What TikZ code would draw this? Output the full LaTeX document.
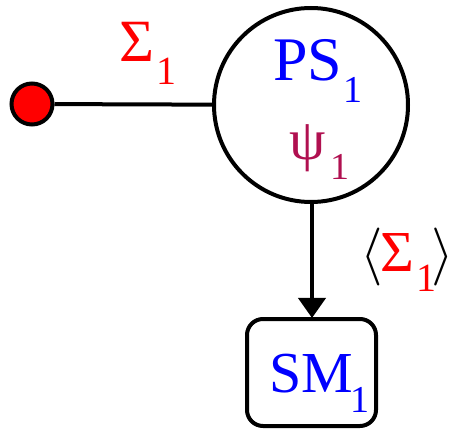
\RequirePackage{fix-cm}
\documentclass[tikz,border=0pt]{standalone}
\usepackage{fontspec}
\setmainfont{Liberation Serif}
\usetikzlibrary{arrows.meta}
\definecolor{psired}{RGB}{176,16,80}
\begin{document}
\begin{tikzpicture}[x=1pt,y=-1pt,line width=4pt,
  lbl/.style={inner sep=0pt,anchor=base west}]
\useasboundingbox (0,0) rectangle (455,430);
% shapes
\node[circle,draw,minimum size=194pt,inner sep=0pt] (ps) at (311,105) {};
\node[circle,draw,fill=red,minimum size=41pt,inner sep=0pt] (dot) at (32,104) {};
\node[draw,rounded corners=16pt,minimum width=129pt,minimum height=107pt,inner sep=0pt] (sm) at (311.5,372.5) {};
% connectors
\draw (dot) -- (ps);
\draw[-{Triangle[length=20pt,width=27pt]}] (ps.south -| 312,0) -- (312,318);
% texts
\node[lbl,text=blue] (pst) at (271,81) {\fontsize{62}{62}\selectfont \makebox[70pt][l]{PS}\raisebox{-22pt}{\fontsize{38}{38}\selectfont 1}};
\node[lbl,text=psired] (psi) at (287,160) {\fontsize{58}{58}\selectfont \makebox[41pt][l]{ψ}\raisebox{-20pt}{\fontsize{38}{38}\selectfont 1}};
\node[lbl,text=red] (sig) at (117,62) {\fontsize{60}{60}\selectfont \makebox[37pt][l]{Σ}\raisebox{-23pt}{\fontsize{40}{40}\selectfont 1}};
\node[lbl] (ang) at (358,272) {\fontsize{58}{58}\selectfont \makebox[20pt][l]{$\langle$}\makebox[36pt][l]{\textcolor{red}{Σ}}\makebox[15pt][l]{\raisebox{-20pt}{\fontsize{40}{40}\selectfont\textcolor{red}{1}}}\makebox[19pt][l]{$\rangle$}};
\node[lbl,text=blue] (smt) at (267,392) {\fontsize{58}{58}\selectfont \makebox[81pt][l]{SM}\raisebox{-20pt}{\fontsize{38}{38}\selectfont 1}};
\end{tikzpicture}
\end{document}
